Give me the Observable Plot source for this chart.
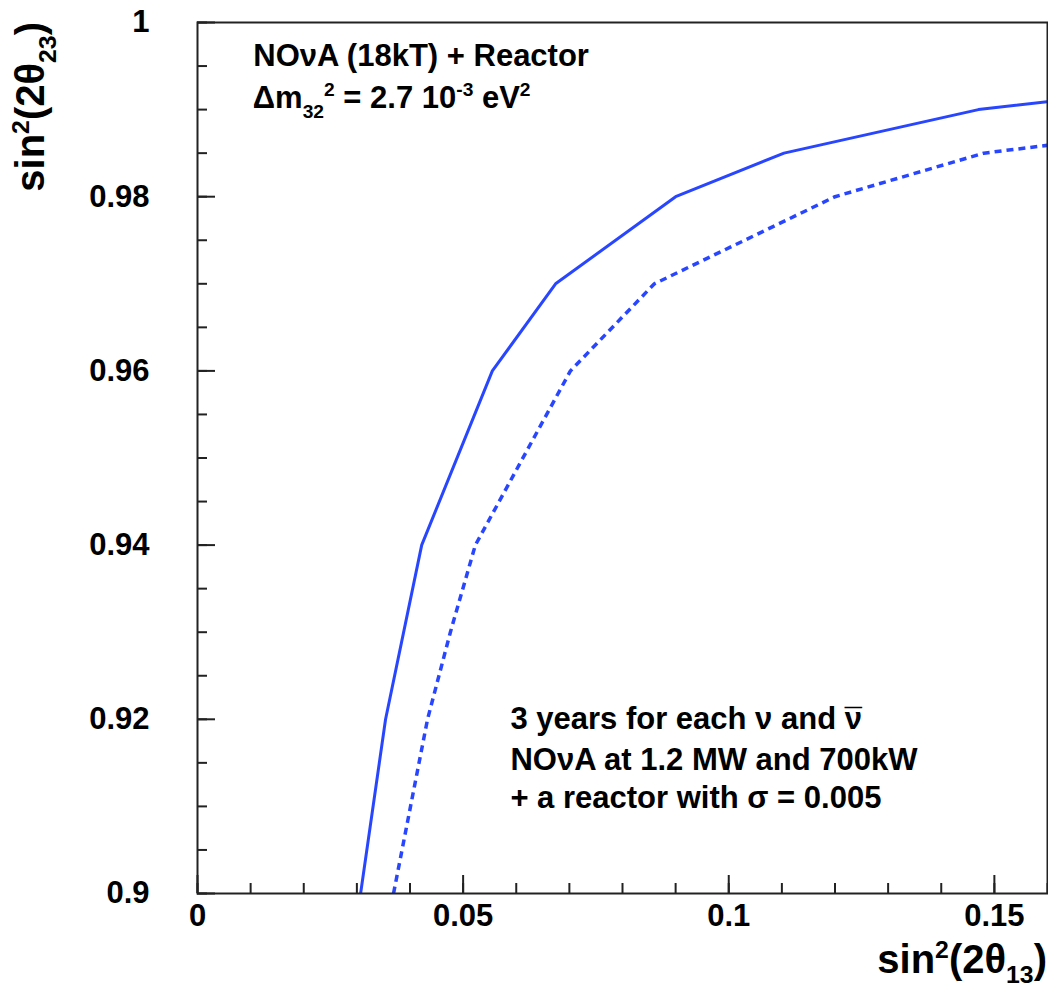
<!DOCTYPE html>
<html><head><meta charset="utf-8">
<script src="https://cdn.jsdelivr.net/npm/d3@7"></script>
<script src="https://cdn.jsdelivr.net/npm/@observablehq/plot@0.6"></script>
<style>body{margin:0;background:#fff} svg{display:block}</style>
</head><body><div id="chart"></div>
<script>
// Solid curve
const solidX = [0.0307, 0.0354, 0.0422, 0.0555, 0.0674, 0.0900, 0.1104, 0.1470, 0.1600];
const solidY = [0.900, 0.920, 0.940, 0.960, 0.970, 0.980, 0.985, 0.990, 0.9909];
// Dotted curve
const dottedX = [0.0369, 0.0433, 0.0476, 0.0523, 0.0702, 0.0860, 0.1200, 0.1480, 0.1600];
const dottedY = [0.900, 0.920, 0.930, 0.940, 0.960, 0.970, 0.980, 0.985, 0.9859];

const xTicks = [0, 0.05, 0.1, 0.15];
const xTickLabels = ["0", "0.05", "0.1", "0.15"];
const yTicks = [0.9, 0.92, 0.94, 0.96, 0.98, 1];
const yTickLabels = ["0.9", "0.92", "0.94", "0.96", "0.98", "1"];
const xMinor = d3.range(0, 0.1601, 0.01);
const yMinor = d3.range(0.9, 1.0001, 0.005);

const topNotes = ["NOνA (18kT) + Reactor"];
const bottomNotes = ["3 years for each ν and ν", "NOνA at 1.2 MW and 700kW", "+ a reactor with σ = 0.005"];
const bottomNoteY = [0.9189, 0.9142, 0.9098];

const W = 1048, H = 992, ML = 197, MR = 1, MT = 22, MB = 99;
const innerW = W - ML - MR, innerH = H - MT - MB;
const blue = "#2846ff";
const axisColor = "#222";
const font = "'Liberation Sans', Arial, Helvetica, sans-serif";

const solid = solidX.map((x, i) => ({x, y: solidY[i]}));
const dotted = dottedX.map((x, i) => ({x, y: dottedY[i]}));

const plot = Plot.plot({
  width: W, height: H,
  marginLeft: ML, marginRight: MR, marginTop: MT, marginBottom: MB,
  x: {domain: [0, 0.16]},
  y: {domain: [0.9, 1]},
  style: {fontFamily: font, fontWeight: "bold", background: "#fff", color: "#000"},
  marks: [
    Plot.line(solid, {x: "x", y: "y", stroke: blue, strokeWidth: 3, clip: true}),
    Plot.line(dotted, {x: "x", y: "y", stroke: blue, strokeWidth: 3.5, strokeDasharray: "7,5", strokeLinecap: "butt", strokeLinejoin: "miter", clip: true}),
    Plot.tickX(xMinor, {x: d => d, stroke: axisColor, strokeWidth: 2, insetTop: innerH - 10}),
    Plot.tickX(xTicks, {x: d => d, stroke: axisColor, strokeWidth: 2, insetTop: innerH - 18}),
    Plot.tickY(yMinor, {y: d => d, stroke: axisColor, strokeWidth: 2, insetRight: innerW - 10}),
    Plot.tickY(yTicks, {y: d => d, stroke: axisColor, strokeWidth: 2, insetRight: innerW - 18}),
    Plot.frame({stroke: axisColor, strokeWidth: 2}),
    Plot.axisX(xTicks, {tickSize: 0, tickPadding: 10, fontSize: 31, tickFormat: d => xTickLabels[xTicks.indexOf(d)], label: null}),
    Plot.axisY(yTicks, {tickSize: 0, tickPadding: 48, fontSize: 31, tickFormat: d => yTickLabels[yTicks.indexOf(d)], label: null}),
    Plot.text(topNotes, {x: () => 0.0105, y: () => 0.99495, text: d => d, textAnchor: "start", lineAnchor: "bottom", fontSize: 31, fill: "#000"}),
    Plot.text(bottomNotes, {x: () => 0.0589, y: (d, i) => bottomNoteY[i], text: d => d, textAnchor: "start", lineAnchor: "bottom", fontSize: 31, fill: "#000"})
  ]
});

document.getElementById("chart").appendChild(plot);

const svg = d3.select(plot);
const xs = plot.scale("x"), ys = plot.scale("y");

function rich(parts, {x, y, size, anchor = "start", rotate = 0, sub = 0.3}) {
  const t = svg.append("text")
    .attr("transform", `translate(${x},${y}) rotate(${rotate})`)
    .attr("text-anchor", anchor)
    .attr("font-family", font)
    .attr("font-weight", "bold")
    .attr("font-size", size)
    .attr("fill", "#000");
  let shift = 0;
  for (const p of parts) {
    const target = p.sup ? -0.38 * size : p.sub ? sub * size : 0;
    const ts = t.append("tspan").text(p.t).attr("dy", target - shift);
    if (p.sup || p.sub) ts.attr("font-size", 0.62 * size);
    shift = target;
  }
  return t;
}

// Δm line
rich([{t: "Δm"}, {t: "32", sub: true}, {t: "2", sup: true}, {t: " = 2.7 10"}, {t: "-3", sup: true}, {t: " eV"}, {t: "2", sup: true}],
  {x: xs.apply(0.0105), y: ys.apply(0.9901), size: 31});

// X axis title
rich([{t: "sin"}, {t: "2", sup: true}, {t: "(2θ"}, {t: "13", sub: true}, {t: ")"}],
  {x: W - MR, y: 973, size: 40, anchor: "end", sub: 0.26});

// Y axis title
rich([{t: "sin"}, {t: "2", sup: true}, {t: "(2θ"}, {t: "23", sub: true}, {t: ")"}],
  {x: 44, y: MT, size: 40, anchor: "end", rotate: -90});

// Macron over the last ν (antineutrino)
svg.selectAll("text").filter(function() { return this.textContent === bottomNotes[0]; }).each(function() {
  const n = this.getNumberOfChars();
  const ext = this.getExtentOfChar(n - 1);
  const start = this.getStartPositionOfChar(n - 1);
  d3.select(this).append("tspan")
    .attr("x", ext.x + ext.width / 2)
    .attr("y", start.y + 2)
    .attr("dy", 0)
    .attr("text-anchor", "middle")
    .attr("font-weight", "normal")
    .text("¯");
});
</script>
</body></html>
